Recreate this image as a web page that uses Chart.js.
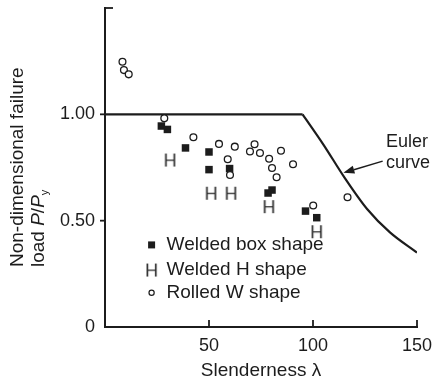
<!DOCTYPE html>
<html>
<head>
<meta charset="utf-8">
<script src="https://cdn.jsdelivr.net/npm/chart.js@4/dist/chart.umd.min.js"></script>
<style>
  html, body { margin: 0; padding: 0; background: #fff; }
  #wrap { width: 434px; height: 380px; }
</style>
</head>
<body>
<div id="wrap"><canvas id="c" width="434" height="380"></canvas></div>
<script>
// Euler curve: plateau at the squash load, then the buckling branch
const eulerLambda = [0, 95, 105, 115, 126, 137, 150];
const eulerLoad   = [1.0, 1.0, 0.858, 0.705, 0.555, 0.445, 0.35];

// Welded box shapes
const boxLambda = [27.1, 30.0, 38.7, 50.0, 50.0, 59.9, 78.4, 80.3, 96.4, 101.8];
const boxLoad   = [0.945, 0.929, 0.842, 0.823, 0.740, 0.745, 0.630, 0.644, 0.545, 0.514];

// Welded H shapes
const hLambda = [31.3, 51.0, 60.6, 78.8, 101.8];
const hLoad   = [0.785, 0.629, 0.629, 0.566, 0.448];

// Rolled W shapes
const wLambda = [8.4, 9.1, 11.4, 28.5, 42.5, 54.8, 62.4, 59.0, 60.1, 71.9, 69.7, 74.5, 78.9, 80.3, 82.5, 84.6, 90.4, 100.1, 116.6];
const wLoad   = [1.247, 1.208, 1.188, 0.981, 0.892, 0.861, 0.848, 0.789, 0.715, 0.859, 0.825, 0.818, 0.791, 0.748, 0.704, 0.829, 0.765, 0.571, 0.610];

// Axis ticks
const xTicks = [50, 100, 150];
const yTicks = [0, 0.5, 1.0];
const yTickLabels = ['0', '0.50', '1.00'];

const legendLabels = ['Welded box shape', 'Welded H shape', 'Rolled W shape'];

const INK = '#1c1c1c';
const FONT = '"Liberation Sans", Arial, Helvetica, sans-serif';

function pts(xs, ys) { return xs.map((x, i) => ({ x: x, y: ys[i] })); }

function makeHGlyph(size, color) {
  const c = document.createElement('canvas');
  c.width = Math.ceil(size * 0.8);
  c.height = Math.ceil(size * 0.9);
  const g = c.getContext('2d');
  g.font = size + 'px ' + FONT;
  g.fillStyle = color;
  g.textAlign = 'center';
  g.textBaseline = 'alphabetic';
  g.fillText('H', c.width / 2, c.height / 2 + size * 0.36);
  return c;
}
const hGlyph = makeHGlyph(18, '#2a2a2a');

// ticks, y-axis title, legend and the Euler note
const decorations = {
  id: 'decorations',
  afterDraw(chart) {
    const ctx = chart.ctx;
    const xs = chart.scales.x, ys = chart.scales.y;
    const left = xs.left, bottom = ys.bottom;
    ctx.save();
    ctx.strokeStyle = INK;
    ctx.lineWidth = 1.8;
    ctx.lineCap = 'butt';
    // x ticks point up into the plot
    xTicks.forEach(v => {
      const px = xs.getPixelForValue(v);
      ctx.beginPath(); ctx.moveTo(px, bottom); ctx.lineTo(px, bottom - 7); ctx.stroke();
    });
    // y ticks point outward
    yTicks.forEach(v => {
      if (v === 0) return;
      const py = ys.getPixelForValue(v);
      ctx.beginPath(); ctx.moveTo(left - 5, py); ctx.lineTo(left, py); ctx.stroke();
    });
    // cap at the top of the y axis
    const pTop = ys.getPixelForValue(ys.max);
    ctx.beginPath(); ctx.moveTo(left - 1, pTop); ctx.lineTo(left + 8, pTop); ctx.stroke();

    // y-axis title (two lines, rotated)
    ctx.fillStyle = INK;
    ctx.textBaseline = 'middle';
    ctx.textAlign = 'left';
    ctx.save();
    ctx.translate(18, 267);
    ctx.rotate(-Math.PI / 2);
    ctx.font = '19px ' + FONT;
    ctx.fillText('Non-dimensional failure', 0, 0);
    ctx.restore();
    ctx.save();
    ctx.translate(39, 267);
    ctx.rotate(-Math.PI / 2);
    let cx = 0;
    const seg = (t, f, dy) => { ctx.font = f; ctx.fillText(t, cx, dy || 0); cx += ctx.measureText(t).width; };
    seg('load ', '19px ' + FONT);
    seg('P', 'italic 19px ' + FONT);
    seg('/', '19px ' + FONT);
    seg('P', 'italic 19px ' + FONT);
    seg('y', '11px ' + FONT, 6);
    ctx.restore();

    // legend inside the plot
    const lx = xs.getPixelForValue(22.4);
    const tx = xs.getPixelForValue(29.6);
    const rows = [0.386, 0.268, 0.161].map(v => ys.getPixelForValue(v));
    ctx.font = '19px ' + FONT;
    ctx.fillStyle = INK;
    legendLabels.forEach((t, i) => ctx.fillText(t, tx, rows[i]));
    ctx.fillRect(lx - 3.5, rows[0] - 3.5, 7, 7);
    ctx.drawImage(hGlyph, lx - hGlyph.width / 2, rows[1] - hGlyph.height / 2);
    ctx.beginPath(); ctx.arc(lx, rows[2], 2.6, 0, Math.PI * 2);
    ctx.lineWidth = 1.2; ctx.strokeStyle = INK; ctx.stroke();

    // Euler curve note with arrow
    ctx.font = '18px ' + FONT;
    const ex = xs.getPixelForValue(135.1);
    ctx.fillText('Euler', ex, ys.getPixelForValue(0.870));
    ctx.fillText('curve', ex, ys.getPixelForValue(0.771));
    const ax0 = xs.getPixelForValue(133.5), ay0 = ys.getPixelForValue(0.780);
    const ax1 = xs.getPixelForValue(114.6), ay1 = ys.getPixelForValue(0.725);
    const ang = Math.atan2(ay1 - ay0, ax1 - ax0);
    const hl = 11, hw = 4;
    const bx = ax1 - hl * Math.cos(ang), by = ay1 - hl * Math.sin(ang);
    ctx.lineWidth = 1.5;
    ctx.beginPath(); ctx.moveTo(ax0, ay0); ctx.lineTo(bx, by); ctx.stroke();
    ctx.beginPath();
    ctx.moveTo(ax1, ay1);
    ctx.lineTo(bx + hw * Math.sin(ang), by - hw * Math.cos(ang));
    ctx.lineTo(bx - hw * Math.sin(ang), by + hw * Math.cos(ang));
    ctx.closePath(); ctx.fill();
    ctx.restore();
  }
};

new Chart(document.getElementById('c'), {
  type: 'scatter',
  data: {
    datasets: [
      {
        label: legendLabels[2],
        data: pts(wLambda, wLoad),
        pointStyle: 'circle',
        pointRadius: 3.4,
        borderWidth: 1.3,
        borderColor: INK,
        backgroundColor: '#fff'
      },
      {
        label: legendLabels[1],
        data: pts(hLambda, hLoad),
        pointStyle: hGlyph,
        pointRadius: 6
      },
      {
        label: legendLabels[0],
        data: pts(boxLambda, boxLoad),
        pointStyle: 'rect',
        pointRadius: 5.3,
        borderWidth: 0,
        backgroundColor: INK
      },
      {
        type: 'line',
        label: 'Euler plateau',
        data: pts(eulerLambda.slice(0, 2), eulerLoad.slice(0, 2)),
        borderColor: INK,
        borderWidth: 2.2,
        pointRadius: 0,
        tension: 0,
        fill: false
      },
      {
        type: 'line',
        label: 'Euler curve',
        data: pts(eulerLambda.slice(1), eulerLoad.slice(1)),
        borderColor: INK,
        borderWidth: 2.2,
        pointRadius: 0,
        cubicInterpolationMode: 'monotone',
        fill: false
      }
    ]
  },
  options: {
    responsive: false,
    animation: false,
    events: [],
    layout: { autoPadding: false, padding: { left: 0, right: 17, top: 8, bottom: 0 } },
    plugins: { legend: { display: false }, tooltip: { enabled: false } },
    scales: {
      x: {
        type: 'linear',
        min: 0, max: 150,
        afterFit(s) { s.height = 53; s.paddingLeft = 0; s.paddingRight = 0; },
        afterBuildTicks(s) { s.ticks = xTicks.map(v => ({ value: v })); },
        grid: { display: false, drawTicks: false },
        border: { display: true, color: INK, width: 2 },
        ticks: { color: INK, font: { family: FONT, size: 18 }, padding: 8, maxRotation: 0,
                 callback: v => String(v) },
        title: { display: true, text: 'Slenderness λ', color: INK,
                 font: { family: FONT, size: 19, lineHeight: 1 }, padding: { top: 0, bottom: 0 } }
      },
      y: {
        type: 'linear',
        min: 0, max: 1.5,
        afterFit(s) { s.width = 105; s.paddingTop = 0; s.paddingBottom = 0; },
        afterBuildTicks(s) { s.ticks = yTicks.map(v => ({ value: v })); },
        grid: { display: false, drawTicks: false },
        border: { display: true, color: INK, width: 2 },
        ticks: { color: INK, font: { family: FONT, size: 18 }, padding: 10,
                 callback: (v) => yTickLabels[yTicks.indexOf(v)] }
      }
    }
  },
  plugins: [decorations]
});
</script>
</body>
</html>
